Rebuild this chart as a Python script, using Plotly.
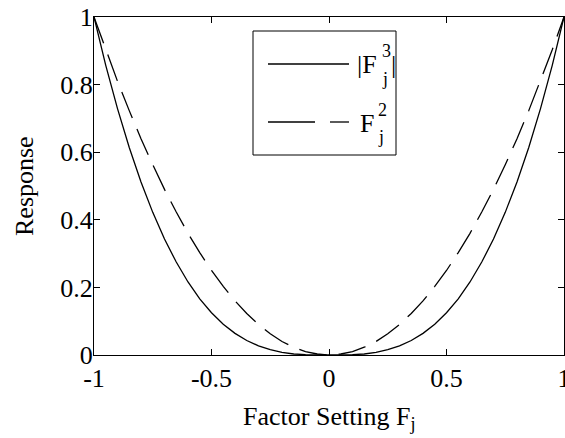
import plotly.graph_objects as go

# Data
x_vals = [-1.0, -0.95, -0.9, -0.85, -0.8, -0.75, -0.7, -0.65, -0.6, -0.55, -0.5,
          -0.45, -0.4, -0.35, -0.3, -0.25, -0.2, -0.15, -0.1, -0.05, 0.0,
          0.05, 0.1, 0.15, 0.2, 0.25, 0.3, 0.35, 0.4, 0.45, 0.5,
          0.55, 0.6, 0.65, 0.7, 0.75, 0.8, 0.85, 0.9, 0.95, 1.0]
abs_cube = [1.0, 0.857, 0.729, 0.614, 0.512, 0.422, 0.343, 0.275, 0.216, 0.166, 0.125,
            0.091, 0.064, 0.043, 0.027, 0.016, 0.008, 0.003, 0.001, 0.0, 0.0,
            0.0, 0.001, 0.003, 0.008, 0.016, 0.027, 0.043, 0.064, 0.091, 0.125,
            0.166, 0.216, 0.275, 0.343, 0.422, 0.512, 0.614, 0.729, 0.857, 1.0]
square = [1.0, 0.903, 0.81, 0.723, 0.64, 0.563, 0.49, 0.423, 0.36, 0.303, 0.25,
          0.203, 0.16, 0.123, 0.09, 0.063, 0.04, 0.023, 0.01, 0.003, 0.0,
          0.003, 0.01, 0.023, 0.04, 0.063, 0.09, 0.123, 0.16, 0.203, 0.25,
          0.303, 0.36, 0.423, 0.49, 0.563, 0.64, 0.723, 0.81, 0.903, 1.0]
x_ticks = [-1, -0.5, 0, 0.5, 1]
x_tick_labels = ["-1", "-0.5", "0", "0.5", "1"]
y_ticks = [0, 0.2, 0.4, 0.6, 0.8, 1]
y_tick_labels = ["0", "0.2", "0.4", "0.6", "0.8", "1"]

FONT = "'Liberation Serif', Tinos, 'Times New Roman', 'DejaVu Serif', serif"
W, H = 565, 438
L, R, T, B = 94, 1, 17, 83
PW, PH = W - L - R, H - T - B


def px(x):
    return (x - L) / PW


def py(y):
    return (H - B - y) / PH


fig = go.Figure()
fig.add_trace(go.Scatter(x=x_vals, y=abs_cube, mode="lines",
                         line=dict(color="black", width=1.3), showlegend=False))
fig.add_trace(go.Scatter(x=x_vals, y=square, mode="lines",
                         line=dict(color="black", width=1.3, dash="28px,12px"),
                         showlegend=False))

axis_common = dict(showline=True, linecolor="black", linewidth=1, mirror="allticks",
                   ticks="inside", ticklen=6, tickcolor="black", showgrid=False,
                   zeroline=False, ticklabeloverflow="allow", automargin=False,
                   tickfont=dict(family=FONT, size=26, color="black"))

fig.update_layout(
    width=W, height=H,
    margin=dict(l=L, r=R, t=T, b=B),
    paper_bgcolor="white", plot_bgcolor="white",
    xaxis=dict(range=[-1, 1], tickvals=x_ticks, ticktext=x_tick_labels, **axis_common),
    yaxis=dict(range=[0, 1], tickvals=y_ticks, ticktext=y_tick_labels,
               ticklabelstandoff=-5, **axis_common),
    font=dict(family=FONT, color="black"),
)

# Axis titles
fig.add_annotation(text="Factor Setting F<sub>j</sub>", xref="paper", yref="paper",
                   x=0.5, y=py(418), xanchor="center", yanchor="middle",
                   showarrow=False, font=dict(family=FONT, size=26, color="black"))
fig.add_annotation(text="Response", xref="paper", yref="paper",
                   x=px(24), y=0.5, xanchor="center", yanchor="middle", textangle=-90,
                   showarrow=False, font=dict(family=FONT, size=26, color="black"))

# Legend box and samples
fig.add_shape(type="rect", xref="paper", yref="paper",
              x0=px(253), x1=px(396), y0=py(155), y1=py(31),
              line=dict(color="black", width=1), fillcolor="white", layer="above")
fig.add_shape(type="line", xref="paper", yref="paper",
              x0=px(268), x1=px(349), y0=py(64), y1=py(64),
              line=dict(color="black", width=1.3), layer="above")
fig.add_shape(type="line", xref="paper", yref="paper",
              x0=px(268), x1=px(315), y0=py(122), y1=py(122),
              line=dict(color="black", width=1.3), layer="above")
fig.add_shape(type="line", xref="paper", yref="paper",
              x0=px(330), x1=px(349), y0=py(122), y1=py(122),
              line=dict(color="black", width=1.3), layer="above")

big = dict(family=FONT, size=26, color="black")
small = dict(family=FONT, size=18, color="black")
legend_texts = [
    ("|F", 356, 64, big),
    ("3", 381, 51, small),
    ("j", 381, 79, small),
    ("|", 390, 64, big),
    ("F", 359, 123, big),
    ("2", 377, 110, small),
    ("j", 377, 137, small),
]
for txt, xx, yy, f in legend_texts:
    fig.add_annotation(text=txt, xref="paper", yref="paper", x=px(xx), y=py(yy),
                       xanchor="left", yanchor="middle", showarrow=False, font=f,
                       borderpad=0)

fig.write_html("out.html", config={"displayModeBar": False},
               post_script="document.body.style.margin='0';document.body.style.padding='0';")
